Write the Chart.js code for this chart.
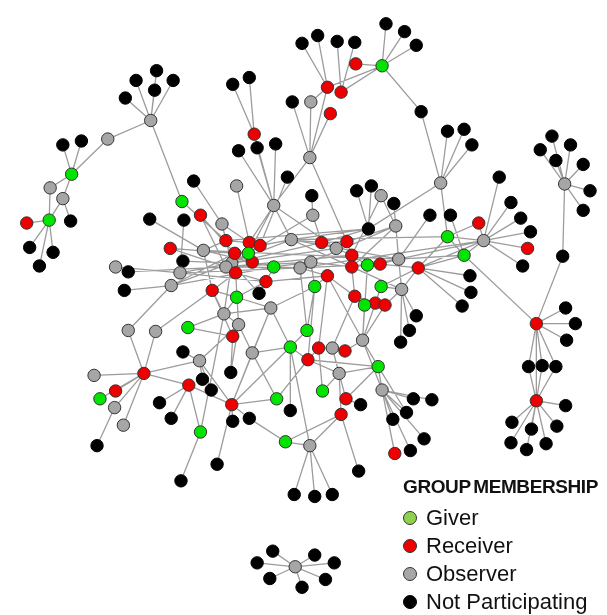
<!DOCTYPE html>
<html>
<head>
<meta charset="utf-8">
<script src="https://cdn.jsdelivr.net/npm/chart.js@4.4.1/dist/chart.umd.min.js"></script>
<style>
  html, body { margin: 0; padding: 0; background: #fff; }
  #wrap { position: relative; width: 607px; height: 615px; }
  #legend { position: absolute; left: 403px; top: 475px; font-family: "Liberation Sans", Arial, sans-serif; color: #111; white-space: nowrap; }
  #legend .title { font-weight: bold; font-size: 19px; letter-spacing: -0.4px; word-spacing: -2px; line-height: 24px; margin-bottom: 5px; }
  #legend .item { font-size: 22px; line-height: 28px; height: 28px; display: flex; align-items: center; }
  #legend .dot { width: 12px; height: 12px; border-radius: 50%; border: 1px solid #333; margin-right: 9px; box-sizing: content-box; }
</style>
</head>
<body>
<div id="wrap">
  <canvas id="net"></canvas>
  <div id="legend"></div>
</div>
<script>
// nodes: [id, x, y] in layout pixels, one list per group
const givers = [
  ['tl_g', 66, 171], ['fl_g', 43, 218], ['tp_g', 384, 60], ['c_g179', 179, 199],
  ['c_g247', 247, 252], ['c_g273', 273, 266], ['c_g235', 235, 297], ['c_g315', 315, 286],
  ['c_g369', 369, 264], ['c_g383', 383, 286], ['c_g366', 366, 305], ['c_g451', 451, 235],
  ['c_g468', 468, 254], ['cl_g185', 185, 328], ['c_g307', 307, 331], ['c_g290', 290, 348],
  ['c_g380', 380, 368], ['c_g323', 323, 393], ['c_g276', 276, 401], ['bm_g', 285, 445],
  ['ll_g', 95, 401], ['ll_g2', 198, 435]
];
const receivers = [
  ['fl_r', 20, 221], ['tm_r', 253, 130], ['tp_r1', 357, 58], ['tp_r2', 328, 82],
  ['tp_r3', 342, 87], ['tp_r4', 331, 109], ['c_r198', 198, 213], ['c_r167', 167, 247],
  ['c_r224', 224, 239], ['c_r248', 248, 241], ['c_r259', 259, 244], ['c_r233', 233, 252],
  ['c_r251', 251, 261], ['c_r234', 234, 272], ['c_r265', 265, 281], ['c_r210', 210, 290],
  ['c_r322', 322, 241], ['c_r348', 348, 240], ['c_r353', 353, 254], ['c_r353b', 353, 266],
  ['c_r382', 382, 263], ['c_r421', 421, 267], ['c_r328', 328, 275], ['c_r356', 356, 296],
  ['c_r377', 377, 303], ['c_r387', 387, 305], ['r_r483', 483, 221], ['r_r533', 533, 247],
  ['c_r231', 231, 337], ['c_r308', 308, 361], ['c_r319', 319, 349], ['c_r346', 346, 352],
  ['c_r230', 230, 407], ['bm_r2', 347, 401], ['bm_r', 342, 417], ['c_r397', 397, 457],
  ['ll_h', 140, 375], ['ll_r', 111, 393], ['ll_r2', 186, 387], ['rr_h', 542, 324],
  ['rr_r2', 542, 403]
];
const observers = [
  ['tl_h', 147, 116], ['tl_o', 103, 135], ['tl_o2', 44, 185], ['tl_o3', 57, 196],
  ['tm_o1', 235, 183], ['tp_o', 311, 97], ['tp_h', 310, 154], ['r_h1', 444, 180],
  ['fr_h', 571, 181], ['c_o273', 273, 203], ['c_o220', 220, 222], ['c_o201', 201, 249],
  ['c_o291', 291, 238], ['c_o230', 230, 262], ['c_o224', 224, 266], ['c_o177', 177, 272],
  ['c_o298', 300, 267], ['c_o168', 168, 285], ['c_o270', 270, 308], ['c_o111', 111, 266],
  ['c_o383', 383, 193], ['c_o313', 313, 213], ['c_o398', 398, 224], ['c_o337', 337, 247],
  ['c_o311', 311, 261], ['c_o401', 401, 258], ['c_o404', 404, 289], ['r_o488', 488, 239],
  ['c_o222', 222, 314], ['c_o237', 237, 325], ['c_o251', 251, 354], ['c_o333', 333, 349],
  ['c_o340', 340, 375], ['c_o364', 364, 341], ['c_o384', 384, 392], ['cl_o197', 197, 362],
  ['ll_o1', 89, 377], ['ll_o2', 110, 410], ['ll_o3', 119, 428], ['ll_o4', 124, 331],
  ['ll_o5', 152, 332], ['bm_o', 310, 449], ['bc_h', 295, 573]
];
const others = [
  ['tl_b1', 121, 93], ['tl_b2', 132, 75], ['tl_b3', 153, 65], ['tl_b4', 151, 85], ['tl_b5', 170, 75],
  ['tl_b6', 57, 141], ['tl_b7', 76, 137],
  ['fl_b1', 65, 219], ['fl_b2', 23, 246], ['fl_b3', 47, 251], ['fl_b4', 33, 265],
  ['tm_b1', 231, 79], ['tm_b2', 248, 72], ['tm_b3', 237, 147], ['tm_b4', 256, 144], ['tm_b5', 275, 140],
  ['c_b287', 287, 174], ['c_b191', 191, 178],
  ['tp_b1', 302, 37], ['tp_b2', 318, 29], ['tp_b3', 338, 35], ['tp_b4', 356, 36], ['tp_b5', 388, 17],
  ['tp_b6', 407, 25], ['tp_b7', 419, 39], ['tp_b8', 292, 97], ['tp_b9', 424, 107],
  ['r_b1', 451, 127], ['r_b2', 468, 125], ['r_b3', 476, 141], ['r_b4', 504, 174], ['r_b5', 516, 200],
  ['r_b11', 526, 216], ['r_b12', 536, 230], ['r_b13', 528, 265], ['r_b14', 433, 213], ['r_b15', 454, 213],
  ['r_b16', 474, 275], ['r_b17', 475, 292], ['r_b18', 466, 306], ['r_b19', 419, 316], ['r_b20', 412, 331],
  ['r_b21', 403, 343],
  ['fr_b1', 558, 132], ['fr_b2', 546, 146], ['fr_b3', 577, 141], ['fr_b4', 562, 157], ['fr_b5', 590, 161],
  ['fr_b6', 597, 188], ['fr_b7', 590, 208], ['fr_b8', 569, 255],
  ['rr_b1', 572, 308], ['rr_b2', 582, 324], ['rr_b3', 573, 341], ['rr_b4', 534, 368], ['rr_b5', 548, 367],
  ['rr_b6', 562, 368], ['rr_b7', 572, 408], ['rr_b8', 517, 425], ['rr_b9', 537, 432], ['rr_b10', 563, 429],
  ['rr_b11', 516, 446], ['rr_b12', 532, 453], ['rr_b13', 552, 447],
  ['c_b146', 146, 217], ['c_b181', 181, 218], ['c_b180', 180, 260], ['c_b124', 124, 271], ['c_b120', 120, 290],
  ['c_b258', 258, 293], ['c_b312', 312, 193], ['c_b358', 358, 188], ['c_b373', 373, 183], ['c_b396', 396, 201],
  ['c_b370', 370, 227], ['cl_b180', 180, 353], ['c_b229', 229, 374], ['c_b200', 200, 381], ['c_b209', 209, 392],
  ['c_b231', 231, 424], ['c_b248', 248, 421], ['c_b290', 290, 413], ['c_b215', 215, 468],
  ['ll_b1', 92, 449], ['ll_b2', 156, 405], ['ll_b3', 168, 421], ['ll_b4', 178, 485],
  ['bm_b1', 294, 499], ['bm_b2', 315, 501], ['bm_b3', 333, 499], ['bm_b4', 362, 407], ['bm_b5', 360, 475],
  ['o_b1', 416, 401], ['o_b2', 435, 402], ['o_b3', 409, 415], ['o_b4', 395, 422], ['o_b5', 427, 442], ['o_b6', 413, 454],
  ['bc_b1', 272, 557], ['bc_b2', 256, 569], ['bc_b3', 269, 585], ['bc_b4', 302, 594], ['bc_b5', 315, 561],
  ['bc_b6', 335, 569], ['bc_b7', 326, 586]
];

// edges: hub -> list of neighbours
const edges = [
  ['tl_h', ['tl_b1', 'tl_b2', 'tl_b3', 'tl_b4', 'tl_b5', 'tl_o', 'c_g179']],
  ['tl_o', ['tl_g']],
  ['tl_g', ['tl_b6', 'tl_b7', 'tl_o2', 'tl_o3']],
  ['fl_g', ['tl_o3', 'tl_o2', 'fl_r', 'fl_b2', 'fl_b3', 'fl_b4']],
  ['fl_b1', ['tl_o3']],
  ['tm_r', ['tm_b1', 'tm_b2', 'c_o273']],
  ['c_o273', ['tm_b3', 'tm_b4', 'tm_b5', 'tp_h', 'c_r248', 'c_g247', 'c_o291', 'c_o337']],
  ['tp_r2', ['tp_b1', 'tp_b2', 'tp_g', 'tp_o']],
  ['tp_r3', ['tp_b3', 'tp_b4', 'tp_g']],
  ['tp_r1', ['tp_g']],
  ['tp_g', ['tp_b5', 'tp_b6', 'tp_b7', 'tp_b9']],
  ['tp_h', ['tp_r2', 'tp_r4', 'tp_o', 'tp_b8', 'c_r348']],
  ['tp_b9', ['r_h1']],
  ['r_h1', ['r_b1', 'r_b2', 'r_b3', 'c_g451', 'c_b370']],
  ['r_o488', ['r_b4', 'r_b5', 'r_b11', 'r_b12', 'r_r533', 'r_b13', 'r_r483', 'c_g451', 'c_g468', 'c_o401', 'c_o298', 'c_r421']],
  ['r_r483', ['c_g451']],
  ['fr_h', ['fr_b1', 'fr_b2', 'fr_b3', 'fr_b4', 'fr_b5', 'fr_b6', 'fr_b7', 'fr_b8']],
  ['fr_b8', ['rr_h']],
  ['rr_h', ['rr_b1', 'rr_b2', 'rr_b3', 'rr_b4', 'rr_b5', 'rr_b6', 'rr_r2', 'c_g468']],
  ['rr_r2', ['rr_b4', 'rr_b5', 'rr_b6', 'rr_b7', 'rr_b8', 'rr_b9', 'rr_b10', 'rr_b11', 'rr_b12', 'rr_b13']],
  ['bc_h', ['bc_b1', 'bc_b2', 'bc_b3', 'bc_b4', 'bc_b5', 'bc_b6', 'bc_b7']],
  ['bm_o', ['bm_b1', 'bm_b2', 'bm_b3', 'bm_g', 'bm_r', 'c_g290']],
  ['bm_g', ['bm_r', 'c_b248']],
  ['bm_r', ['bm_b5', 'c_o340']],
  ['bm_r2', ['bm_b4', 'c_o333', 'c_g380']],
  ['ll_h', ['ll_o1', 'll_r', 'll_o4', 'll_o5', 'll_o3', 'cl_o197', 'll_r2', 'll_g', 'll_o2']],
  ['ll_o2', ['ll_b1']],
  ['ll_o4', ['c_o168']],
  ['ll_o5', ['c_r210']],
  ['ll_r2', ['ll_b2', 'll_b3', 'll_g2', 'c_r230']],
  ['ll_g2', ['ll_b4', 'c_o222']],
  ['c_g179', ['c_r224']],
  ['c_b191', ['c_o220']],
  ['c_r198', ['c_r233', 'c_o224']],
  ['c_b146', ['c_o201']],
  ['c_b181', ['c_o177']],
  ['c_b180', ['c_o230']],
  ['c_o111', ['c_o177']],
  ['c_b124', ['c_o224']],
  ['c_b120', ['c_o168']],
  ['tm_o1', ['c_r248']],
  ['c_b287', ['c_r259']],
  ['c_b312', ['c_o313']],
  ['c_b370', ['c_b358', 'c_b373', 'c_o291', 'c_r322', 'c_r224']],
  ['c_o383', ['c_o398', 'c_r353']],
  ['c_b396', ['c_o401']],
  ['r_b14', ['c_o401']],
  ['r_b15', ['c_g468']],
  ['c_o398', ['c_r353b', 'c_r348', 'c_o311']],
  ['c_o313', ['c_r322', 'c_o224']],
  ['c_g451', ['c_r421', 'c_o291', 'c_g468']],
  ['c_g468', ['c_o401', 'c_r421']],
  ['c_r421', ['r_b16', 'r_b17', 'r_b18', 'c_o404', 'c_g383']],
  ['c_o404', ['r_b19', 'r_b20', 'r_b21']],
  ['c_o384', ['o_b1', 'o_b2', 'o_b3', 'o_b4', 'o_b5', 'o_b6', 'c_r397']],
  ['c_g380', ['o_b3', 'c_o384']],
  ['cl_o197', ['cl_b180', 'c_b200', 'c_b209', 'c_o237']],
  ['c_r230', ['c_b231', 'c_b248', 'c_g276', 'c_b215', 'cl_o197']],
  ['c_b290', ['c_g290']],
  ['c_g276', ['c_r308']],
  ['c_b258', ['c_o230']],
  ['c_b229', ['c_o237', 'c_r231']],
  ['c_o177', ['c_o230', 'c_r265', 'c_o298']],
  ['c_o168', ['c_r233', 'c_o291', 'c_g273']],
  ['c_o201', ['c_r224', 'c_g247', 'c_r251', 'c_o401', 'c_r210']],
  ['c_o220', ['c_r248', 'c_o230']],
  ['c_o224', ['c_r167', 'c_r233', 'c_g247', 'c_o311', 'c_r353', 'c_o298']],
  ['c_o230', ['c_r259', 'c_r234', 'c_r322', 'c_o337', 'c_o222']],
  ['c_r167', ['c_r233']],
  ['c_r224', ['c_r248']],
  ['c_r248', ['c_r259']],
  ['c_g247', ['c_r251', 'c_r233']],
  ['c_r234', ['c_r265', 'c_o237', 'c_r210']],
  ['c_r210', ['c_g235', 'c_o222', 'c_r231']],
  ['c_g235', ['c_r265', 'c_o222', 'c_o270']],
  ['c_r265', ['c_g273', 'c_b258', 'c_r328']],
  ['c_g273', ['c_o298', 'c_o311', 'c_r251']],
  ['c_o291', ['c_r259', 'c_r322', 'c_o401', 'c_o404']],
  ['c_o298', ['c_r328', 'c_o311', 'c_g307', 'c_r382']],
  ['c_o311', ['c_g315', 'c_r353b']],
  ['c_r322', ['c_o337', 'c_r348']],
  ['c_o337', ['c_r353', 'c_r348']],
  ['c_r348', ['c_r353']],
  ['c_r353', ['c_g369', 'c_r382']],
  ['c_r353b', ['c_g369', 'c_r356', 'c_o401']],
  ['c_g369', ['c_r382', 'c_o364']],
  ['c_r382', ['c_o401', 'c_r421']],
  ['c_o401', ['c_o404']],
  ['c_g383', ['c_r377', 'c_o404', 'c_o364']],
  ['c_r328', ['c_g315', 'c_r356', 'c_o364', 'c_r319']],
  ['c_g315', ['c_r308', 'c_o270', 'c_g307']],
  ['c_r356', ['c_g366', 'c_r387', 'c_o333']],
  ['c_g366', ['c_r377', 'c_o364']],
  ['c_r377', ['c_r387']],
  ['c_r387', ['c_o404']],
  ['c_o270', ['c_o222', 'c_o251', 'c_g290', 'c_r230']],
  ['c_o222', ['c_o237', 'cl_g185']],
  ['c_o237', ['c_r231', 'c_o251']],
  ['c_r231', ['cl_g185']],
  ['c_o251', ['c_r230', 'c_g276']],
  ['c_g290', ['c_g307', 'c_r308', 'c_o251', 'c_r230']],
  ['c_r308', ['c_r319', 'c_o340', 'c_g380']],
  ['c_r319', ['c_o333']],
  ['c_o333', ['c_r346', 'c_o340']],
  ['c_r346', ['c_o364']],
  ['c_o340', ['c_g323', 'c_g380']],
  ['c_g323', ['c_r319']],
  ['c_o364', ['c_g380', 'c_o384', 'c_r387']]
];

const groupLabels = ['Giver', 'Receiver', 'Observer', 'Not Participating'];
const groupFill = ['#00e400', '#ee0000', '#a6a6a6', '#000000'];
const legendFill = ['#8fd14f', '#ee0000', '#a6a6a6', '#000000'];

// lookup of positions
const pos = {};
[givers, receivers, observers, others].forEach(list => {
  list.forEach(([id, x, y]) => { pos[id] = { x, y }; });
});

// all edges in one dataset, segments separated by gaps
const edgePoints = [];
edges.forEach(([a, list]) => {
  list.forEach(b => {
    edgePoints.push({ x: pos[a].x, y: pos[a].y }, { x: pos[b].x, y: pos[b].y }, { x: pos[b].x, y: null });
  });
});

const nodeSet = (list, i) => ({
  label: groupLabels[i],
  data: list.map(([id, x, y]) => ({ x, y })),
  backgroundColor: groupFill[i],
  borderColor: i === 3 ? '#000' : '#333',
  borderWidth: 1,
  pointRadius: 6.2,
  pointHoverRadius: 6.2,
  order: 1
});

const canvas = document.getElementById('net');
canvas.width = 607;
canvas.height = 615;

new Chart(canvas, {
  type: 'scatter',
  data: {
    datasets: [
      nodeSet(givers, 0),
      nodeSet(receivers, 1),
      nodeSet(observers, 2),
      nodeSet(others, 3),
      {
        label: 'edges',
        data: edgePoints,
        showLine: true,
        spanGaps: false,
        borderColor: '#9c9c9c',
        borderWidth: 1.3,
        pointRadius: 0,
        order: 10
      }
    ]
  },
  options: {
    responsive: false,
    animation: false,
    events: [],
    layout: { padding: 0 },
    plugins: { legend: { display: false }, tooltip: { enabled: false } },
    scales: {
      x: { type: 'linear', min: 0, max: 607, display: false },
      y: { type: 'linear', min: 0, max: 615, reverse: true, display: false }
    }
  }
});

// legend
const legend = document.getElementById('legend');
legend.innerHTML = '<div class="title">GROUP MEMBERSHIP</div>' + groupLabels.map((lab, i) =>
  `<div class="item"><span class="dot" style="background:${legendFill[i]};${i === 3 ? 'border-color:#000;' : ''}"></span>${lab}</div>`
).join('');
</script>
</body>
</html>
